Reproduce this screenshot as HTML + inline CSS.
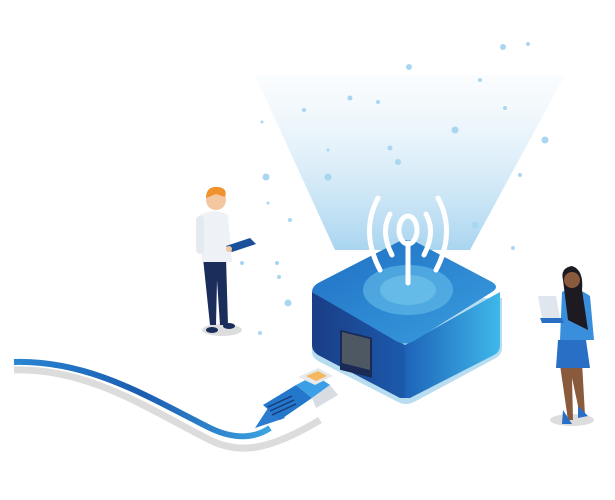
<!DOCTYPE html>
<html><head><style>html,body{margin:0;padding:0;background:#fff}svg{display:block}</style></head>
<body>
<svg width="615" height="500" viewBox="0 0 615 500" xmlns="http://www.w3.org/2000/svg">
<defs>
<linearGradient id="beam" x1="0" y1="1" x2="0" y2="0">
<stop offset="0" stop-color="#9fd0ee" stop-opacity="0.9"/>
<stop offset="1" stop-color="#e6f2fa" stop-opacity="0.2"/>
</linearGradient>
<linearGradient id="rface" x1="0" y1="0" x2="1" y2="0">
<stop offset="0" stop-color="#1d63b8"/><stop offset="1" stop-color="#3fb8ea"/>
</linearGradient>
<linearGradient id="lface" x1="0" y1="0" x2="1" y2="0">
<stop offset="0" stop-color="#1a3d86"/><stop offset="1" stop-color="#1c5aac"/>
</linearGradient>
<linearGradient id="top" x1="0" y1="0" x2="1" y2="1">
<stop offset="0" stop-color="#1f6fc4"/><stop offset="1" stop-color="#3a9ede"/>
</linearGradient>
<linearGradient id="cable" x1="0" y1="0" x2="1" y2="0">
<stop offset="0" stop-color="#2a86d2"/><stop offset="0.5" stop-color="#1b5cb0"/><stop offset="1" stop-color="#3ca3e2"/>
</linearGradient>
</defs>
<!-- beam -->
<polygon points="255,75 565,75 470,250 335,250" fill="url(#beam)"/>
<!-- dots -->
<g fill="#a9d6f0">
<circle cx="503" cy="47" r="3"/><circle cx="528" cy="44" r="2"/><circle cx="409" cy="67" r="3"/><circle cx="480" cy="80" r="2"/>
<circle cx="350" cy="98" r="2.5"/><circle cx="378" cy="102" r="2"/><circle cx="304" cy="110" r="2"/><circle cx="455" cy="130" r="3.5"/>
<circle cx="505" cy="108" r="2"/><circle cx="262" cy="122" r="1.5"/><circle cx="390" cy="148" r="2.5"/><circle cx="328" cy="150" r="1.5"/>
<circle cx="545" cy="140" r="3.5"/><circle cx="266" cy="177" r="3.5"/><circle cx="328" cy="177" r="3.5"/><circle cx="398" cy="162" r="3"/>
<circle cx="520" cy="175" r="2"/><circle cx="290" cy="220" r="2"/><circle cx="268" cy="203" r="1.5"/><circle cx="277" cy="263" r="2"/>
<circle cx="279" cy="277" r="2"/><circle cx="288" cy="303" r="3.5"/><circle cx="260" cy="333" r="2"/><circle cx="242" cy="263" r="2"/>
<circle cx="475" cy="225" r="3.5"/><circle cx="513" cy="248" r="2"/>
</g>
<!-- router -->
<path d="M312,300 L312,352 Q312,358 320,362 L398,402 Q406,406 414,402 L496,358 Q502,354 502,348 L502,298 Z" fill="#b8dcf0"/>
<path d="M312,292 L312,345 Q312,352 320,356 L400,398 L405,398 L405,345 Z" fill="url(#lface)"/>
<path d="M405,345 L500,292 L500,345 Q500,352 494,355 L410,398 L405,398 Z" fill="url(#rface)"/>
<path d="M312,292 Q312,286 320,282 L398,242 Q407,238 416,242 L492,282 Q500,287 492,292 L414,341 Q405,346 396,341 Z" fill="url(#top)"/>
<ellipse cx="408" cy="290" rx="45" ry="25" fill="#6cc2ec" opacity="0.55"/>
<ellipse cx="408" cy="290" rx="28" ry="15" fill="#7ccdf0" opacity="0.5"/>
<rect x="340" y="330" width="32" height="40" fill="#1a2a55" transform="skewY(14) translate(0,-85)"/>
<polygon points="342,332 370,339 370,370 342,363" fill="#4e5863"/>
<!-- antenna -->
<g fill="none" stroke="#fff" stroke-width="5" stroke-linecap="round">
<line x1="408" y1="243" x2="408" y2="283"/>
<ellipse cx="408" cy="230" rx="9" ry="14"/>
<path d="M390,214 Q380,232 392,255"/><path d="M426,214 Q436,232 424,255"/>
<path d="M378,198 Q360,232 380,270"/><path d="M438,198 Q456,232 436,270"/>
</g>
<!-- cable shadow -->
<path d="M14,370 C90,368 150,410 210,440 C240,455 270,450 320,420" fill="none" stroke="#dcdcdc" stroke-width="7"/>
<path d="M14,362 C90,360 150,398 210,428 C235,440 255,438 270,428" fill="none" stroke="url(#cable)" stroke-width="6"/>
<!-- connector -->
<polygon points="255,428 270,405 285,418" fill="#2a7cd0"/>
<polygon points="263,405 296,385 312,398 280,420" fill="#2478cc"/>
<polygon points="296,385 315,375 330,385 312,398" fill="#3a9fe6"/>
<polygon points="312,398 330,385 338,395 316,408" fill="#d8dde3"/>
<polygon points="298,377 318,368 333,376 315,385" fill="#e6e9ee"/>
<polygon points="306,376 318,371 327,376 316,381" fill="#f4b860"/>
<g stroke="#1a3a7a" stroke-width="1.5"><line x1="268" y1="407" x2="292" y2="396"/><line x1="270" y1="411" x2="294" y2="400"/><line x1="272" y1="415" x2="296" y2="404"/></g>
<!-- man -->
<ellipse cx="222" cy="330" rx="20" ry="6" fill="#ddd"/>
<path d="M203,258 L210,325 L216,325 L217,280 L220,325 L228,325 L226,258 Z" fill="#1b2d5a"/>
<ellipse cx="212" cy="330" rx="6" ry="3" fill="#1b2d5a"/><ellipse cx="229" cy="326" rx="6" ry="3" fill="#1b2d5a"/>
<path d="M200,215 Q214,207 228,215 L232,262 L202,262 Z" fill="#eef2f6"/>
<rect x="196" y="216" width="8" height="38" rx="4" fill="#e4eaf0"/>
<circle cx="216" cy="200" r="10" fill="#f3c7a0"/>
<path d="M206,198 Q206,186 218,187 Q228,188 225,197 L216,194 Z" fill="#f0922e"/>
<polygon points="226,246 250,238 256,244 232,252" fill="#1c4f9a"/>
<circle cx="229" cy="249" r="3" fill="#f3c7a0"/>
<!-- woman -->
<ellipse cx="572" cy="420" rx="22" ry="6" fill="#ddd"/>
<path d="M560,365 L568,420 L573,420 L572,378 L580,415 L585,415 L582,362 Z" fill="#8a5a3c"/>
<path d="M563,410 L572,424 L562,424 Z M578,406 L588,416 L578,418 Z" fill="#2a6fc6"/>
<path d="M558,340 L586,340 L590,368 L556,368 Z" fill="#2a6fc6"/>
<path d="M562,292 Q575,285 590,296 L594,340 L560,340 Z" fill="#3a8fdc"/>
<path d="M563,280 Q560,268 572,266 Q584,270 582,290 L588,330 L568,320 Z" fill="#1e1a22"/>
<circle cx="572" cy="280" r="8" fill="#8a5a3c"/>
<polygon points="538,296 556,296 560,318 542,318" fill="#dfe6ee"/>
<polygon points="540,318 562,318 564,323 542,323" fill="#2a6fc6"/>
</svg>
</body></html>
